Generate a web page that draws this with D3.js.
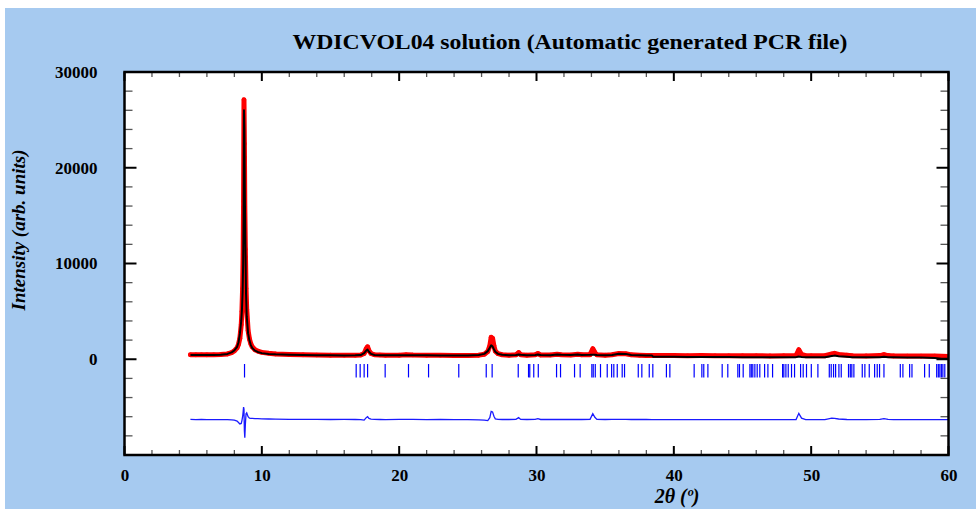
<!DOCTYPE html>
<html>
<head>
<meta charset="utf-8">
<script src="https://cdn.jsdelivr.net/npm/d3@7/dist/d3.min.js"></script>
<style>
  html, body { margin: 0; padding: 0; background: #ffffff; }
  svg { display: block; }
</style>
</head>
<body>
<svg id="chart" width="976" height="509"></svg>
<script>
// ---------------- DATA ----------------
const chartTitle = "WDICVOL04 solution (Automatic generated PCR file)";
const yAxisTitle = "Intensity (arb. units)";
const xAxisTitle = "2θ (º)";

const xTickValues = [0, 10, 20, 30, 40, 50, 60];
const yTickValues = [0, 10000, 20000, 30000];

// 2-theta grid (degrees)
const theta = [
  4.8, 5.2, 5.6, 6.0, 6.5, 7.0, 7.5, 7.8, 8.0, 8.2,
  8.3, 8.4, 8.5, 8.55, 8.6, 8.64, 8.67, 8.70, 8.73, 8.76,
  8.80, 8.85, 8.90, 9.0, 9.1, 9.2, 9.3, 9.5, 9.7, 10.0,
  10.5, 11.0, 12.0, 13.0, 14.0, 15.0, 16.0, 16.8, 17.2, 17.45,
  17.6, 17.7, 17.8, 17.95, 18.2, 18.6, 19.0, 20.0, 20.5, 21.0,
  22.0, 23.0, 24.0, 25.0, 25.8, 26.2, 26.45, 26.6, 26.7, 26.8,
  26.9, 27.0, 27.2, 27.5, 28.0, 28.5, 28.7, 28.85, 29.3, 29.9,
  30.1, 30.3, 31.0, 31.5, 31.8, 32.5, 33.0, 33.3, 33.9, 34.1,
  34.25, 34.4, 35.0, 35.5, 36.0, 36.5, 36.9, 37.5, 38.0, 38.4,
  38.5, 39.0, 40.0, 41.0, 42.0, 43.0, 44.0, 45.0, 46.0, 47.0,
  48.0, 48.9, 49.1, 49.3, 49.6, 50.0, 51.0, 51.5, 51.7, 52.0,
  52.6, 53.0, 54.0, 55.0, 55.3, 55.6, 56.0, 57.0, 58.0, 59.0,
  59.5, 60.0
];

// observed intensity
const yObs = [
  470, 460, 470, 460, 470, 490, 560, 700, 880, 1200,
  1550, 2200, 3600, 5000, 7400, 11000, 16500, 27100, 22500, 16000,
  11500, 7400, 5200, 3000, 2100, 1600, 1300, 1000, 850, 720,
  620, 560, 500, 460, 440, 430, 420, 420, 450, 600,
  1100, 1300, 900, 600, 470, 440, 420, 430, 470, 440,
  420, 410, 400, 400, 430, 520, 800, 1400, 2300, 2200,
  1400, 850, 580, 470, 430, 460, 700, 480, 430, 470,
  600, 450, 440, 520, 470, 450, 520, 460, 480, 1100,
  700, 460, 430, 470, 600, 580, 460, 420, 400, 390,
  390, 380, 380, 370, 380, 370, 360, 370, 360, 350,
  360, 380, 1000, 500, 370, 360, 370, 550, 620, 500,
  430, 360, 350, 380, 480, 380, 350, 340, 330, 330,
  320, 300
];

// calculated intensity
const yCalc = [
  440, 440, 440, 445, 455, 480, 560, 720, 920, 1300,
  1750, 2650, 4000, 5100, 7000, 10000, 15000, 26000, 24000, 17800,
  12000, 6800, 4500, 2700, 1950, 1480, 1180, 900, 760, 640,
  560, 510, 470, 440, 420, 410, 400, 405, 440, 640,
  900, 1000, 780, 560, 450, 420, 410, 410, 430, 420,
  410, 400, 395, 395, 440, 560, 850, 1200, 1450, 1350,
  1050, 780, 560, 460, 420, 440, 500, 460, 420, 450,
  500, 440, 430, 500, 460, 440, 500, 450, 460, 480,
  460, 440, 420, 450, 580, 560, 450, 410, 390, 380,
  250, 250, 250, 240, 240, 230, 230, 220, 220, 210,
  210, 220, 280, 240, 210, 210, 210, 330, 380, 320,
  260, 210, 200, 210, 260, 210, 200, 190, 180, 120,
  60, 40
];

// difference (obs - calc), plotted around the offset line
const yDiff = [
  20, 0, 10, 0, 0, 0, 0, -30, -60, -150,
  -300, -450, -400, -100, 300, 800, 1300, 1100, -1200, -1900,
  -500, 600, 700, 300, 150, 120, 120, 100, 90, 80,
  60, 50, 30, 20, 20, 10, 20, 10, 0, -50,
  200, 300, 120, 40, 20, 10, 0, 20, 30, 20,
  0, 10, 0, 0, -30, -60, -100, 200, 850, 800,
  350, 70, 20, 10, 10, 20, 200, 20, 10, 20,
  100, 10, 10, 20, 10, 10, 20, 10, 20, 620,
  240, 20, 10, 20, 20, 20, 10, 10, 10, 0,
  0, 0, 0, 0, 0, 0, 0, 0, 0, 0,
  0, 0, 650, 150, 0, 0, 0, 150, 130, 60,
  10, 0, 0, 20, 100, 20, 0, 0, 0, 0,
  0, 0
];

// Bragg reflection positions (degrees 2-theta)
const braggPositions = [
  8.74, 16.87, 17.16, 17.45, 17.70, 18.98, 20.68, 22.14, 24.34,
  26.34, 26.77, 28.67, 29.42, 29.51, 29.80, 30.13, 31.46, 31.75, 32.77, 33.18,
  34.03, 34.13, 34.28, 34.66, 35.15, 35.47, 35.63, 35.88, 36.24, 36.41,
  37.41, 37.67, 38.21, 38.47, 39.46, 39.71, 41.48, 42.04, 42.18, 42.48,
  43.52, 43.93, 44.66, 44.78, 45.05, 45.54, 45.64, 45.75, 45.90, 46.07,
  46.26, 46.61, 46.85, 47.19, 47.92, 48.01, 48.16, 48.33, 48.57, 48.79,
  49.23, 49.42, 49.66, 50.01, 50.49, 51.32, 51.46, 51.63, 51.78, 52.02,
  52.19, 52.72, 52.85, 52.96, 53.11, 53.72, 53.91, 54.23, 54.62, 54.81,
  54.98, 55.30, 56.49, 56.68, 57.17, 57.34, 58.26, 58.60, 59.14, 59.26,
  59.37, 59.48, 59.59, 59.73
];

// ---------------- DRAWING ----------------
const W = 976, H = 509;
const plot = { left: 124.5, right: 948.5, top: 72, bottom: 455 };
const DIFF_OFFSET = -6300;
const BRAGG_TOP = -500, BRAGG_BOTTOM = -1900;

const svg = d3.select("#chart");
const serif = "'Liberation Serif', 'Times New Roman', serif";

// background
svg.append("rect").attr("x", 0).attr("y", 0).attr("width", W).attr("height", H).attr("fill", "#ffffff");
svg.append("rect").attr("x", 5).attr("y", 8).attr("width", W - 5).attr("height", H - 8).attr("fill", "#a6caf0");

const x = d3.scaleLinear().domain([0, 60]).range([plot.left, plot.right]);
const y = d3.scaleLinear().domain([-10000, 30000]).range([plot.bottom, plot.top]);

// plot area
svg.append("rect")
  .attr("x", plot.left).attr("y", plot.top)
  .attr("width", plot.right - plot.left).attr("height", plot.bottom - plot.top)
  .attr("fill", "#ffffff");

svg.append("clipPath").attr("id", "clip")
  .append("rect").attr("x", plot.left).attr("y", plot.top)
  .attr("width", plot.right - plot.left).attr("height", plot.bottom - plot.top);

const g = svg.append("g").attr("clip-path", "url(#clip)");

const pts = theta.map((t, i) => ({ t, obs: yObs[i], calc: yCalc[i], diff: yDiff[i] }));

// observed: thick red band + dots
g.append("path")
  .datum(pts)
  .attr("fill", "none")
  .attr("stroke", "#ff0000")
  .attr("stroke-width", 5)
  .attr("stroke-linejoin", "round")
  .attr("stroke-linecap", "round")
  .attr("d", d3.line().x(d => x(d.t)).y(d => y(d.obs)));

g.selectAll("circle.obs").data(pts).enter().append("circle")
  .attr("class", "obs")
  .attr("cx", d => x(d.t)).attr("cy", d => y(d.obs)).attr("r", 2.3)
  .attr("fill", "#ff0000");

// calculated: black line
g.append("path")
  .datum(pts)
  .attr("fill", "none")
  .attr("stroke", "#000000")
  .attr("stroke-width", 2)
  .attr("stroke-linejoin", "round")
  .attr("d", d3.line().x(d => x(d.t)).y(d => y(d.calc)));

// Bragg positions
g.selectAll("line.bragg").data(braggPositions).enter().append("line")
  .attr("class", "bragg")
  .attr("x1", d => x(d)).attr("x2", d => x(d))
  .attr("y1", y(BRAGG_TOP)).attr("y2", y(BRAGG_BOTTOM))
  .attr("stroke", "#0000ff").attr("stroke-width", 1.2);

// difference curve
g.append("path")
  .datum(pts)
  .attr("fill", "none")
  .attr("stroke", "#1a1aff")
  .attr("stroke-width", 1.3)
  .attr("d", d3.line().x(d => x(d.t)).y(d => y(DIFF_OFFSET + d.diff)));

// ---- axes with inward ticks on all four sides ----
const xMinor = d3.range(0, 61, 2);
const yMinor = d3.range(-10000, 30001, 2000);

function isMajorX(v) { return v % 10 === 0; }
function isMajorY(v) { return v % 10000 === 0; }

const tickG = svg.append("g");
xMinor.forEach(v => {
  const major = isMajorX(v);
  const len = major ? 9 : 5;
  const xx = x(v);
  [[plot.bottom, -1], [plot.top, 1]].forEach(([base, dir]) => {
    tickG.append("line")
      .attr("x1", xx).attr("x2", xx)
      .attr("y1", base).attr("y2", base + dir * len)
      .attr("stroke", major ? "#000" : "#555")
      .attr("stroke-width", major ? 2 : 1.3);
  });
});
yMinor.forEach(v => {
  const major = isMajorY(v);
  const len = major ? 12 : 8;
  const yy = y(v);
  [[plot.left, 1], [plot.right, -1]].forEach(([base, dir]) => {
    tickG.append("line")
      .attr("x1", base).attr("x2", base + dir * len)
      .attr("y1", yy).attr("y2", yy)
      .attr("stroke", major ? "#000" : "#555")
      .attr("stroke-width", major ? 2 : 1.3);
  });
});

// frame
svg.append("rect")
  .attr("x", plot.left).attr("y", plot.top)
  .attr("width", plot.right - plot.left).attr("height", plot.bottom - plot.top)
  .attr("fill", "none").attr("stroke", "#000").attr("stroke-width", 2.5);

// tick labels
const xAxis = d3.axisBottom(x).tickValues(xTickValues).tickSize(0).tickPadding(0).tickFormat(d3.format("d"));
const xAxisG = svg.append("g").attr("transform", `translate(0, ${plot.bottom + 14})`).call(xAxis);
xAxisG.select(".domain").remove();
xAxisG.selectAll("text")
  .attr("font-family", serif).attr("font-weight", "bold").attr("font-size", 17)
  .attr("fill", "#000").attr("dy", "0.71em");

const yAxis = d3.axisLeft(y).tickValues(yTickValues).tickSize(0).tickPadding(0).tickFormat(d3.format("d"));
const yAxisG = svg.append("g").attr("transform", `translate(${plot.left - 27}, 0)`).call(yAxis);
yAxisG.select(".domain").remove();
yAxisG.selectAll("text")
  .attr("font-family", serif).attr("font-weight", "bold").attr("font-size", 17)
  .attr("fill", "#000");

// title
svg.append("text")
  .attr("x", 570).attr("y", 49)
  .attr("text-anchor", "middle")
  .attr("font-family", serif).attr("font-weight", "bold").attr("font-size", 21)
  .attr("fill", "#000")
  .attr("textLength", 555).attr("lengthAdjust", "spacingAndGlyphs")
  .text(chartTitle);

// y axis title
svg.append("text")
  .attr("transform", `translate(25, 230) rotate(-90)`)
  .attr("text-anchor", "middle")
  .attr("font-family", serif).attr("font-weight", "bold").attr("font-style", "italic")
  .attr("font-size", 19).attr("fill", "#000")
  .text(yAxisTitle);

// x axis title
svg.append("text")
  .attr("x", 677).attr("y", 503)
  .attr("text-anchor", "middle")
  .attr("font-family", serif).attr("font-weight", "bold").attr("font-style", "italic")
  .attr("font-size", 20).attr("fill", "#000")
  .text(xAxisTitle);
</script>
</body>
</html>
